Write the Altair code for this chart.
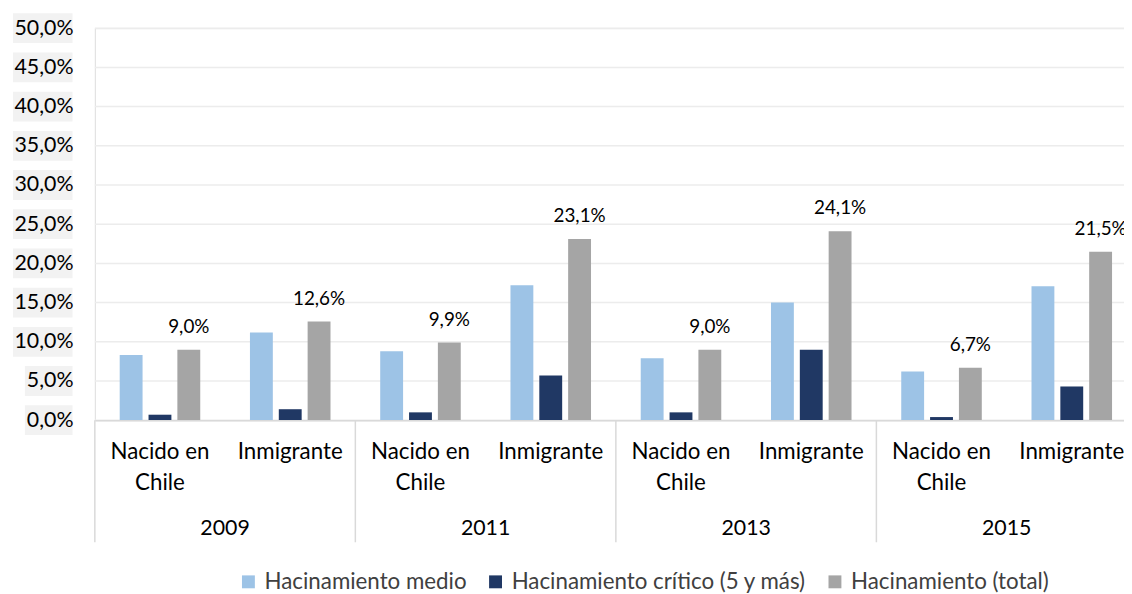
import altair as alt
import pandas as pd

# ---------------- data ----------------
years = ["2009", "2011", "2013", "2015"]
categories = ["Nacido en Chile", "Inmigrante"]
category_labels = ["Nacido en\nChile", "Inmigrante"]
series = ["Hacinamiento medio", "Hacinamiento crítico (5 y más)", "Hacinamiento (total)"]
colors = ["#9DC3E6", "#203864", "#A5A5A5"]

# order: 2009 Nacido, 2009 Inmigrante, 2011 Nacido, ...
medio = [8.3, 11.2, 8.8, 17.2, 7.9, 15.0, 6.2, 17.1]
critico = [0.7, 1.4, 1.0, 5.7, 1.0, 9.0, 0.4, 4.3]
total = [9.0, 12.6, 9.9, 23.1, 9.0, 24.1, 6.7, 21.5]

y_ticks = [0, 5, 10, 15, 20, 25, 30, 35, 40, 45, 50]

# ---------------- tables ----------------
keys = [f"{y}|{c}" for y in years for c in categories]
rows = []
for i, k in enumerate(keys):
    for s, vals in zip(series, [medio, critico, total]):
        rows.append({"key": k, "series": s, "value": vals[i]})
df = pd.DataFrame(rows)

df_cat = pd.DataFrame({
    "key": keys,
    "label": [category_labels[i % 2] for i in range(len(keys))],
})
df_year = pd.DataFrame({"key": [f"{y}|{categories[1]}" for y in years], "year": years})
df_sep = pd.DataFrame({"key": [f"{y}|{categories[0]}" for y in years]})
df_ticks = pd.DataFrame({"t": y_ticks})

FONT = "Lato"
pct_expr = "replace(format(datum.value, '.1f'), '.', ',') + '%'"

x_scale = alt.Scale(domain=keys, range=[0, 1050], paddingInner=0, paddingOuter=0)
x_axis = alt.Axis(labels=False, ticks=False, title=None, grid=False,
                  domainColor="#d9d9d9", domainWidth=1.5, zindex=1)
y_scale = alt.Scale(domain=[0, 50], nice=False, zero=True)
y_axis = alt.Axis(values=y_ticks, labelExpr=pct_expr, title=None, grid=False,
                  domain=False, ticks=False, tickSize=0, labelPadding=22,
                  labelFontSize=21.5, labelFont=FONT, labelColor="#000000", zindex=2)
xo_scale = alt.Scale(domain=series, paddingInner=0.207, paddingOuter=0.862)


def X(bp=None):
    if bp is None:
        return alt.X("key:N", scale=x_scale, axis=x_axis)
    return alt.X("key:N", scale=x_scale, axis=x_axis, bandPosition=bp)


# horizontal gridlines
grid = alt.Chart(df_ticks).mark_rule(color="#ececec", strokeWidth=1.5).encode(
    y=alt.Y("t:Q", scale=y_scale, axis=y_axis),
)

# gray label backgrounds on the y axis
boxes_wide = alt.Chart(df_ticks).transform_filter("datum.t >= 10").transform_calculate(
    lo="datum.t - 1.9", hi="datum.t + 1.9"
).mark_rect(color="#f2f2f2").encode(
    y=alt.Y("lo:Q", scale=y_scale, axis=y_axis), y2="hi:Q",
    x=alt.value(-82.5), x2=alt.value(-22.5),
)
boxes_narrow = alt.Chart(df_ticks).transform_filter("datum.t < 10").transform_calculate(
    lo="datum.t - 1.9", hi="datum.t + 1.9"
).mark_rect(color="#f2f2f2").encode(
    y=alt.Y("lo:Q", scale=y_scale, axis=y_axis), y2="hi:Q",
    x=alt.value(-70.5), x2=alt.value(-22.5),
)

seps = alt.Chart(df_sep).mark_rule(color="#d9d9d9", strokeWidth=1.5).encode(
    x=X(0), y=alt.value(395), y2=alt.value(518),
)

bars = alt.Chart(df).mark_bar().encode(
    x=X(),
    xOffset=alt.XOffset("series:N", sort=series, scale=xo_scale),
    y=alt.Y("value:Q", scale=y_scale, axis=y_axis),
    color=alt.Color("series:N", sort=series,
                    scale=alt.Scale(domain=series, range=colors),
                    legend=alt.Legend(title=None, orient="none", legendX=143.5, legendY=546.5,
                                      direction="horizontal", symbolType="square",
                                      symbolSize=169, symbolStrokeWidth=0, labelOffset=5,
                                      columnPadding=17, labelFontSize=22.5, labelFont=FONT,
                                      labelColor="#404040", labelLimit=0)),
)

labels = alt.Chart(df).transform_filter(
    alt.datum.series == series[2]
).transform_calculate(
    lab="replace(format(datum.value, '.1f'), '.', ',') + '%'"
).mark_text(baseline="alphabetic", dy=-17, fontSize=19, font=FONT, color="#000000").encode(
    x=X(),
    xOffset=alt.XOffset("series:N", sort=series, scale=xo_scale),
    y=alt.Y("value:Q", scale=y_scale, axis=y_axis),
    text="lab:N",
)

cat_text = alt.Chart(df_cat).mark_text(
    baseline="alphabetic", lineBreak="\n", lineHeight=31, fontSize=22.5, font=FONT,
    color="#000000"
).encode(x=X(), y=alt.value(434), text="label:N")

year_text = alt.Chart(df_year).mark_text(
    baseline="alphabetic", fontSize=21.5, font=FONT, color="#000000"
).encode(x=X(0), y=alt.value(510.7), text="year:N")

chart = alt.layer(
    grid, boxes_wide, boxes_narrow, seps, bars, labels, cat_text, year_text
).properties(
    width=1037, height=395,
    autosize=alt.AutoSizeParams(type="none"),
    padding={"left": 87.5, "top": 18, "right": 0, "bottom": 200},
).configure_view(stroke=None).configure(font=FONT)

chart.save("out.html", embed_options={"renderer": "svg", "actions": False})
